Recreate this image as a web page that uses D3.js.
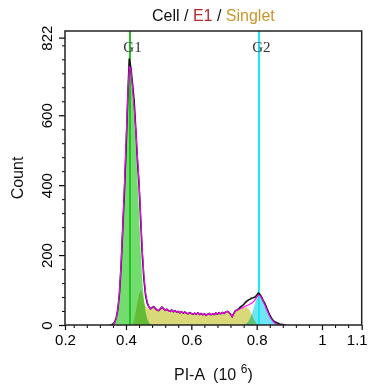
<!DOCTYPE html>
<html><head><meta charset="utf-8">
<script src="https://cdn.jsdelivr.net/npm/d3@7"></script>
<style>
html,body{margin:0;padding:0;background:#fff;}
svg{display:block;font-family:"Liberation Sans",Arial,sans-serif;}
</style></head>
<body>
<svg id="chart" width="371" height="387"></svg>
<script>
// ---- data ----
const piA = [0.350,0.355,0.360,0.365,0.370,0.375,0.380,0.385,0.390,0.395,
 0.400,0.405,0.410,0.415,0.420,0.425,0.430,0.435,0.440,0.445,
 0.450,0.455,0.460,0.465,0.470,0.475,0.480,0.485,0.490,0.495,
 0.500,0.505,0.510,0.515,0.520,0.525,0.530,0.535,0.540,0.545,
 0.550,0.555,0.560,0.565,0.570,0.575,0.580,0.585,0.590,0.595,
 0.600,0.605,0.610,0.615,0.620,0.625,0.630,0.635,0.640,0.645,
 0.650,0.655,0.660,0.665,0.670,0.675,0.680,0.685,0.690,0.695,
 0.700,0.705,0.710,0.715,0.720,0.725,0.730,0.735,0.740,0.745,
 0.750,0.755,0.760,0.765,0.770,0.775,0.780,0.785,0.790,0.795,
 0.800,0.805,0.810,0.815,0.820,0.825,0.830,0.835,0.840,0.845,
 0.850,0.855,0.860,0.865,0.870,0.875,0.880,0.885,0.890];

const countData = [0,0,3,8,20,45,90,170,275,380,
 500,640,762,735,690,640,560,470,400,300,
 200,130,85,62,52,46,50,52,47,43,
 41,46,51,47,42,45,41,39,43,38,
 41,37,39,35,38,34,37,34,32,35,
 33,31,34,31,35,30,33,29,32,28,
 31,33,29,32,30,34,31,35,32,36,
 33,37,39,36,31,24,33,41,43,46,
 51,55,58,64,68,72,74,77,78,80,
 85,91,88,80,70,62,50,39,28,20,
 13,9,7,5,3,2,1,0,0];

const fitG1 = [0,0,1,6,18,45,95,175,280,395,
 520,645,740,730,680,605,515,420,320,210,
 125,72,38,18,7,2,0,0,0,0,
 0,0,0,0,0,0,0,0,0,0,
 0,0,0,0,0,0,0,0,0,0,
 0,0,0,0,0,0,0,0,0,0,
 0,0,0,0,0,0,0,0,0,0,
 0,0,0,0,0,0,0,0,0,0,
 0,0,0,0,0,0,0,0,0,0,
 0,0,0,0,0,0,0,0,0,0,
 0,0,0,0,0,0,0,0,0];

const fitS = [0,0,0,0,0,0,0,0,0,0,
 0,0,0,0,0,15,40,65,88,100,
 88,68,54,48,46,44,50,52,47,43,
 41,46,51,47,42,45,41,39,43,38,
 41,37,39,35,38,34,37,34,32,35,
 33,31,34,31,35,30,33,29,32,28,
 31,33,29,32,30,34,31,35,32,36,
 33,37,39,36,31,24,33,41,42,44,
 47,49,50,51,50,46,40,31,20,10,
 3,0,0,0,0,0,0,0,0,0,
 0,0,0,0,0,0,0,0,0];

const fitG2 = [0,0,0,0,0,0,0,0,0,0,
 0,0,0,0,0,0,0,0,0,0,
 0,0,0,0,0,0,0,0,0,0,
 0,0,0,0,0,0,0,0,0,0,
 0,0,0,0,0,0,0,0,0,0,
 0,0,0,0,0,0,0,0,0,0,
 0,0,0,0,0,0,0,0,0,0,
 0,0,0,0,0,0,0,0,0,0,
 0,0,1,3,6,11,20,31,46,62,
 76,85,84,77,67,57,46,35,25,17,
 11,6,3,1,0,0,0,0,0];

const gateNames = ["G1","G2"];
const gatePositions = [0.4122, 0.807];
const gateColors = ["#22bf22","#19e6ef"];

const xDomain = [0.2133, 1.1215];
const xTickValues = [0.2133, 0.4, 0.6, 0.8, 1.0, 1.1215];
const xTickLabels = ["0.2","0.4","0.6","0.8","1","1.1"];
const xMinorTicks = [0.24,0.28,0.32,0.36,0.44,0.48,0.52,0.56,0.64,0.68,0.72,0.76,0.84,0.88,0.92,0.96,1.04,1.08];
const yDomain = [0, 841];
const yTickValues = [0, 200, 400, 600, 822];
const yMinorTicks = [40,80,120,160,240,280,320,360,440,480,520,560,640,680,720,760,800];

// ---- drawing ----
const svg = d3.select("#chart");
const L = 65, R = 361.7, T = 31, B = 325;
const x = d3.scaleLinear().domain(xDomain).range([L, R]);
const y = d3.scaleLinear().domain(yDomain).range([B, T]);

const rows = piA.map((v,i)=>({v, d:countData[i], g1:fitG1[i], s:fitS[i], g2:fitG2[i]}));

svg.append("clipPath").attr("id","clip").append("rect")
  .attr("x",L).attr("y",T).attr("width",R-L).attr("height",B-T);
const plot = svg.append("g").attr("clip-path","url(#clip)");

function areaOf(key){
  return d3.area().x(d=>x(d.v)).y0(y(0)).y1(d=>y(d[key]));
}
const fills = [["g1","#72dd6e"],["s","#dad97a"],["g2","#6fe4f4"]];
fills.forEach(([k,c])=>{
  plot.append("path").datum(rows).attr("d",areaOf(k))
    .attr("fill",c).style("mix-blend-mode","multiply");
});

// gate lines
gatePositions.forEach((g,i)=>{
  plot.append("line").attr("x1",x(g)).attr("x2",x(g)).attr("y1",T).attr("y2",B)
    .attr("stroke",gateColors[i]).attr("stroke-width",2);
});

// data histogram
plot.append("path").datum(rows)
  .attr("d", d3.line().x(d=>x(d.v)).y(d=>y(d.d)))
  .attr("fill","none").attr("stroke","#111").attr("stroke-width",1.6);
// fit
plot.append("path").datum(rows)
  .attr("d", d3.line().x(d=>x(d.v)).y(d=>y(d.g1+d.s+d.g2)))
  .attr("fill","none").attr("stroke","#ff00ff").attr("stroke-width",1.1);

// gate labels
gatePositions.forEach((g,i)=>{
  svg.append("text").attr("x",x(g)+2.5).attr("y",52)
    .attr("text-anchor","middle").attr("font-family","'Liberation Serif','Times New Roman',serif")
    .attr("font-size",15).attr("fill","#333").text(gateNames[i]);
});

// axes
const xAxis = svg.append("g").attr("transform",`translate(0,${B})`)
  .call(d3.axisBottom(x).tickValues(xTickValues).tickFormat((d,i)=>xTickLabels[i]).tickSize(5).tickPadding(4));
xAxis.select(".domain").remove();
xAxis.selectAll("text").attr("font-size",15).attr("font-family","'Liberation Sans',Arial,sans-serif").attr("fill","#000");
xAxis.selectAll(".tick").filter((d,i)=>i===xTickValues.length-1).select("text")
  .attr("text-anchor","end").attr("x",5.5);
xAxis.selectAll("line").attr("stroke","#000").attr("stroke-width",1.2);
const xMinor = svg.append("g").attr("transform",`translate(0,${B})`)
  .call(d3.axisBottom(x).tickValues(xMinorTicks).tickFormat("").tickSize(3));
xMinor.select(".domain").remove();
xMinor.selectAll("line").attr("stroke","#000");

const yAxis = svg.append("g").attr("transform",`translate(${L},0)`)
  .call(d3.axisLeft(y).tickValues(yTickValues).tickFormat(d3.format("d")).tickSize(6));
yAxis.select(".domain").remove();
yAxis.selectAll("line").attr("stroke","#000").attr("stroke-width",1.2);
yAxis.selectAll("text").attr("font-size",15).attr("font-family","'Liberation Sans',Arial,sans-serif").attr("fill","#000")
  .attr("transform","rotate(-90)").attr("x",0).attr("y",-13).attr("dy",0).attr("text-anchor","middle");
const yMinor = svg.append("g").attr("transform",`translate(${L},0)`)
  .call(d3.axisLeft(y).tickValues(yMinorTicks).tickFormat("").tickSize(3));
yMinor.select(".domain").remove();
yMinor.selectAll("line").attr("stroke","#000");

// frame
svg.append("rect").attr("x",L).attr("y",T).attr("width",R-L).attr("height",B-T)
  .attr("fill","none").attr("stroke","#222").attr("stroke-width",1.5);

// titles
const title = svg.append("text").attr("x",(L+R)/2).attr("y",21).attr("text-anchor","middle").attr("font-size",16);
title.append("tspan").attr("fill","#111").text("Cell / ");
title.append("tspan").attr("fill","#b3282d").text("E1");
title.append("tspan").attr("fill","#111").text(" / ");
title.append("tspan").attr("fill","#c9972a").text("Singlet");

const xt = svg.append("text").attr("x",(L+R)/2).attr("y",380).attr("text-anchor","middle")
  .attr("font-size",16).attr("fill","#111").style("white-space","pre");
xt.append("tspan").text("PI-A  (10 ");
xt.append("tspan").attr("font-size",12).attr("dy",-7).text("6");
xt.append("tspan").attr("dy",7).text(")");

svg.append("text").attr("transform",`translate(23,${(T+B)/2}) rotate(-90)`)
  .attr("text-anchor","middle").attr("font-size",16).attr("fill","#111").text("Count");
</script>
</body></html>
